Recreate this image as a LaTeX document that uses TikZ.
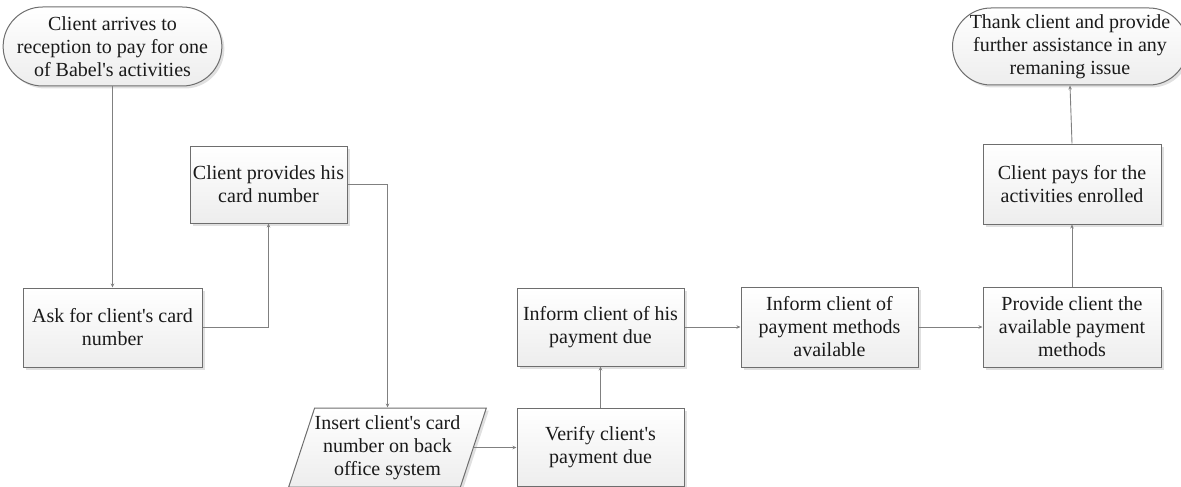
\documentclass[tikz,border=0pt]{standalone}
\usepackage{fontspec}
\setmainfont{Liberation Serif}
\usetikzlibrary{shapes.misc,shapes.geometric,shadows,arrows.meta}
\newcommand\apos{\textquotesingle}
\definecolor{edgegray}{HTML}{6E6E6E}
\definecolor{linegray}{HTML}{808080}
\definecolor{inkblack}{HTML}{1A1A1A}
\tikzset{
  flowshape/.style={draw=edgegray, line width=1pt, top color=white, bottom color=black!7,
    drop shadow={shadow xshift=2.5pt, shadow yshift=-2.5pt, fill=black!12, opacity=1},
    inner sep=0pt, align=center, text=inkblack,
    font=\rmfamily\fontsize{20pt}{23pt}\selectfont},
  procbox/.style={flowshape, rectangle},
  termbox/.style={flowshape, rounded rectangle, rounded rectangle arc length=180},
  iobox/.style={flowshape, trapezium, trapezium left angle=68, trapezium right angle=112,
    trapezium stretches=true},
  link/.style={draw=linegray, line width=0.9pt, -{Stealth[length=4pt,width=3.5pt]}},
}
\begin{document}
\begin{tikzpicture}[x=1pt,y=-1pt]
\useasboundingbox (0,0) rectangle (1181,487);
% start and end terminators
\node[termbox, minimum width=211pt, minimum height=79pt] (start) at (112.5,46.5)
  {Client arrives to\\reception to pay for one\\of Babel\apos s activities};
\node[termbox, minimum width=220pt, minimum height=77pt] (thank) at (1070,46.5)
  {Thank client and provide\\further assistance in any\\remaning issue};
% process steps
\node[procbox, minimum width=179pt, minimum height=79pt] (ask) at (112.5,327.5)
  {Ask for client\apos s card\\number};
\node[procbox, minimum width=157pt, minimum height=77pt] (provides) at (268.5,184.5)
  {Client provides his\\card number};
\node[iobox, minimum width=195pt, minimum height=79pt] (insert) at (387.5,447.5)
  {Insert client\apos s card\\number on back\\office system};
\node[procbox, minimum width=167pt, minimum height=78pt] (verify) at (600.5,447.5)
  {Verify client\apos s\\payment due};
\node[procbox, minimum width=167pt, minimum height=78pt] (due) at (600.5,327)
  {Inform client of his\\payment due};
\node[procbox, minimum width=177pt, minimum height=80pt] (methods) at (829.5,327)
  {Inform client of\\payment methods\\available};
\node[procbox, minimum width=178pt, minimum height=80pt] (offer) at (1072,327)
  {Provide client the\\available payment\\methods};
\node[procbox, minimum width=178pt, minimum height=80pt] (pays) at (1072,184)
  {Client pays for the\\activities enrolled};
% connectors
\draw[link] (start.south) -- (ask.north);
\draw[link] (ask.east) -| (provides.south);
\draw[link] (provides.east) -| (insert.north);
\draw[link] (insert.east) -- (verify.west);
\draw[link] (verify.north) -- (due.south);
\draw[link] (due.east) -- (methods.west);
\draw[link] (methods.east) -- (offer.west);
\draw[link] (offer.north) -- (pays.south);
\draw[link] (pays.north) -- (thank.south);
\end{tikzpicture}
\end{document}
